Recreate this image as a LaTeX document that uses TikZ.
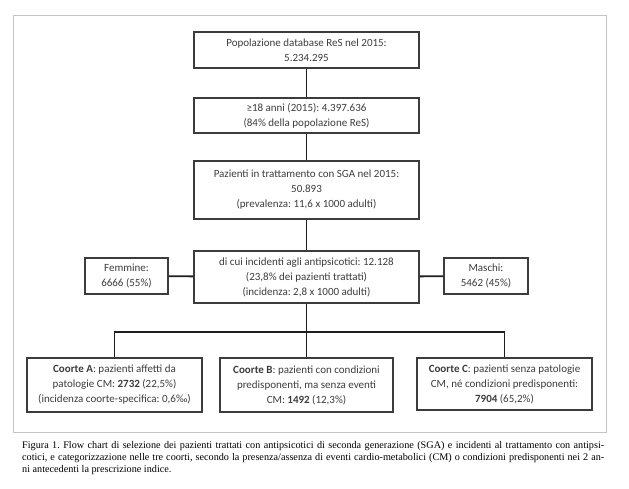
\documentclass[tikz,border=0pt]{standalone}
\usepackage{fontspec}
\setmainfont{Liberation Serif}
\newfontfamily\boxfont{Carlito}
\usetikzlibrary{positioning}
\definecolor{boxgray}{HTML}{3C3C3C}
\definecolor{linegray}{HTML}{1E1E1E}
\definecolor{framegray}{HTML}{C4C4C4}
\tikzstyle{box} = [draw=boxgray,line width=1.1pt,text=boxgray,align=center,inner sep=0pt,font=\boxfont\fontsize{11}{15}\selectfont]
\tikzstyle{line} = [draw=linegray,line width=1.8pt]

\begin{document}
\frenchspacing
\begin{tikzpicture}[x=1pt,y=-1pt]
\useasboundingbox (0,0) rectangle (629,489);
\draw[framegray,line width=0.9pt] (13.5,15) rectangle (606,432);

\node[box,minimum width=225pt,minimum height=36pt] (pop) at (306.5,50)
 {Popolazione database ReS nel 2015:\\5.234.295};
\node[box,minimum width=225pt,minimum height=35pt] (adult) at (306.5,115.5)
 {≥18 anni (2015): 4.397.636\\(84\% della popolazione ReS)};
\node[box,minimum width=225pt,minimum height=58pt] (treat) at (306.5,190)
 {Pazienti in trattamento con SGA nel 2015:\\50.893\\(prevalenza: 11,6 x 1000 adulti)};
\node[box,minimum width=225pt,minimum height=52pt] (incid) at (306.5,277)
 {di cui incidenti agli antipsicotici: 12.128\\(23,8\% dei pazienti trattati)\\(incidenza: 2,8 x 1000 adulti)};
\node[box,minimum width=83pt,minimum height=36pt] (fem) at (126.5,276)
 {Femmine:\\6666 (55\%)};
\node[box,minimum width=84pt,minimum height=36pt] (mas) at (486,276)
 {Maschi:\\5462 (45\%)};
\node[box,minimum width=175pt,minimum height=54pt] (coA) at (114.5,385)
 {\textbf{Coorte A}: pazienti affetti da\\patologie CM: \textbf{2732} (22,5\%)\\(incidenza coorte-specifica: 0,6‰)};
\node[box,minimum width=173pt,minimum height=54pt] (coB) at (306.5,385)
 {\textbf{Coorte B}: pazienti con condizioni\\predisponenti, ma senza eventi\\CM: \textbf{1492} (12,3\%)};
\node[box,minimum width=175pt,minimum height=52pt] (coC) at (504.5,384)
 {\textbf{Coorte C}: pazienti senza patologie\\CM, né condizioni predisponenti:\\\textbf{7904} (65,2\%)};
\coordinate (bus) at (306.5,332);

\draw[line] (pop) -- (adult);
\draw[line] (adult) -- (treat);
\draw[line] (treat) -- (incid);
\draw[line] (fem) -- (incid);
\draw[line] (incid) -- (mas);
\draw[line] (incid) -- (coB);
\draw[line] (coA.north) |- (bus) -| (coC.north);

\node[text width=582pt,align=justify,inner sep=0pt,anchor=north west,font=\fontsize{10.2}{12}\selectfont] (cap) at (22,441.5)
 {Figura 1. Flow chart di selezione dei pazienti trattati con antipsicotici di seconda generazione (SGA) e incidenti al trattamento con antipsi-\linebreak{}cotici, e categorizzazione nelle tre coorti, secondo la presenza/assenza di eventi cardio-metabolici (CM) o condizioni predisponenti nei 2 an-\linebreak{}ni antecedenti la prescrizione indice.};
\end{tikzpicture}
\end{document}
